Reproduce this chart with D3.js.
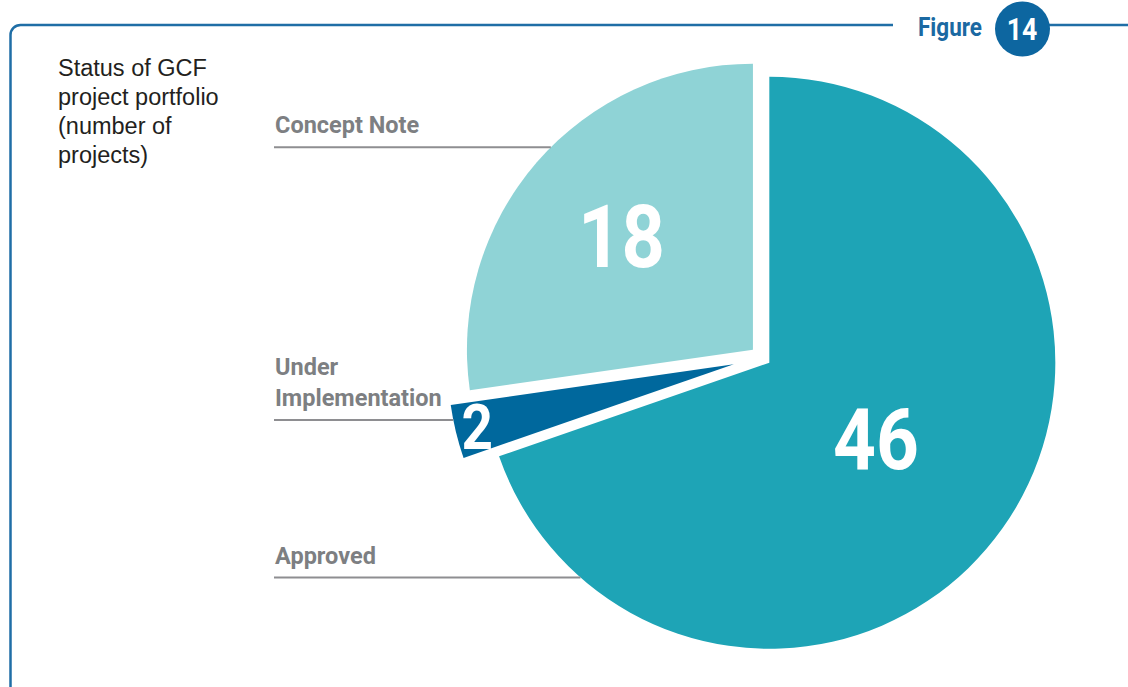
<!DOCTYPE html>
<html>
<head>
<meta charset="utf-8">
<script src="https://cdn.jsdelivr.net/npm/d3@7"></script>
<style>
  html, body { margin: 0; padding: 0; background: #fff; }
  svg { display: block; }
</style>
</head>
<body>
<svg id="chart" width="1128" height="687"></svg>
<script>
// data, in drawing order (clockwise from 12 o'clock)
var categories = ['Approved', 'Under Implementation', 'Concept Note'];
var values = [46, 2, 18];
var labelLines = [['Approved'], ['Under', 'Implementation'], ['Concept Note']];
var colors = ['#1ea4b6', '#00689d', '#8fd3d6'];
var titleLines = ['Status of GCF', 'project portfolio', '(number of', 'projects)'];
var figureNumber = '14';

var svg = d3.select('#chart');
var W = 1128, H = 687;

// frame: rounded corner top-left, top rule broken by the figure tag
var frameBlue = '#1f6ea6';
svg.append('path')
  .attr('d', 'M10.5,' + H + ' L10.5,35 A10,10 0 0 1 20.5,25 L893,25')
  .attr('fill', 'none').attr('stroke', frameBlue).attr('stroke-width', 2.5);
svg.append('line')
  .attr('x1', 1048).attr('x2', W).attr('y1', 25).attr('y2', 25)
  .attr('stroke', frameBlue).attr('stroke-width', 2.5);

svg.append('text')
  .attr('transform', 'translate(918,36) scale(0.9,1)')
  .attr('font-family', 'Roboto').attr('font-weight', 700).attr('font-size', 25)
  .attr('fill', '#1b69a2')
  .text('Figure');
svg.append('circle')
  .attr('cx', 1022.5).attr('cy', 29).attr('r', 27.5)
  .attr('fill', '#0d66a0');
svg.append('text')
  .attr('transform', 'translate(1022,39.5) scale(0.86,1)')
  .attr('text-anchor', 'middle')
  .attr('font-family', 'Roboto').attr('font-weight', 700).attr('font-size', 31)
  .attr('fill', '#fff')
  .text(figureNumber);

// chart title
svg.append('g').selectAll('text')
  .data(titleLines)
  .join('text')
    .attr('x', 58)
    .attr('y', function(d, i) { return 76 + i * 29; })
    .attr('font-family', 'Liberation Sans, Arial, sans-serif')
    .attr('font-size', 23.5)
    .attr('fill', '#231f20')
    .text(function(d) { return d; });

// pie
var cx = 762, cy = 357.5, radius = 286;
var explode = [9, 29, 12];       // how far each slice is pulled out
var numberRadius = [131, 264, 174];
var numberSize = [86, 63, 87];
var guideY = [577.5, 420, 147.3]; // y of the rule under each category label

var pie = d3.pie().sort(null).value(function(d) { return d; });
var arcs = pie(values);
var arc = d3.arc().innerRadius(0).outerRadius(radius);

function sliceCenter(a, i) {
  var mid = (a.startAngle + a.endAngle) / 2;
  return [cx + explode[i] * Math.sin(mid), cy - explode[i] * Math.cos(mid)];
}

var slices = svg.append('g').selectAll('g')
  .data(arcs)
  .join('g')
    .attr('transform', function(d, i) {
      var c = sliceCenter(d, i);
      return 'translate(' + c[0] + ',' + c[1] + ')';
    });

slices.append('path')
  .attr('d', arc)
  .attr('fill', function(d, i) { return colors[i]; });

slices.append('text')
  .attr('transform', function(d, i) {
    var mid = (d.startAngle + d.endAngle) / 2;
    var x = numberRadius[i] * Math.sin(mid);
    var y = -numberRadius[i] * Math.cos(mid) + numberSize[i] * 0.355;
    return 'translate(' + x + ',' + y + ') scale(0.87,1)';
  })
  .attr('text-anchor', 'middle')
  .attr('font-family', 'Roboto').attr('font-weight', 700)
  .attr('font-size', function(d, i) { return numberSize[i]; })
  .attr('fill', '#fff')
  .text(function(d) { return d.data; });

// category labels with rules running to the slice edge
var labelX = 274;
var labels = svg.append('g').selectAll('g')
  .data(arcs)
  .join('g');

labels.append('line')
  .attr('x1', labelX)
  .attr('x2', function(d, i) {
    var c = sliceCenter(d, i);
    var dy = guideY[i] - c[1];
    return c[0] - Math.sqrt(radius * radius - dy * dy);
  })
  .attr('y1', function(d, i) { return guideY[i]; })
  .attr('y2', function(d, i) { return guideY[i]; })
  .attr('stroke', '#8e8e91').attr('stroke-width', 2);

labels.each(function(d, i) {
  var lines = labelLines[i];
  d3.select(this).selectAll('text')
    .data(lines)
    .join('text')
      .attr('x', labelX + 1)
      .attr('y', function(t, j) { return guideY[i] - 14 - (lines.length - 1 - j) * 31.5; })
      .attr('font-family', 'Roboto').attr('font-weight', 700).attr('font-size', 23.5)
      .attr('fill', '#7d7f82')
      .text(function(t) { return t; });
});
</script>
</body>
</html>
